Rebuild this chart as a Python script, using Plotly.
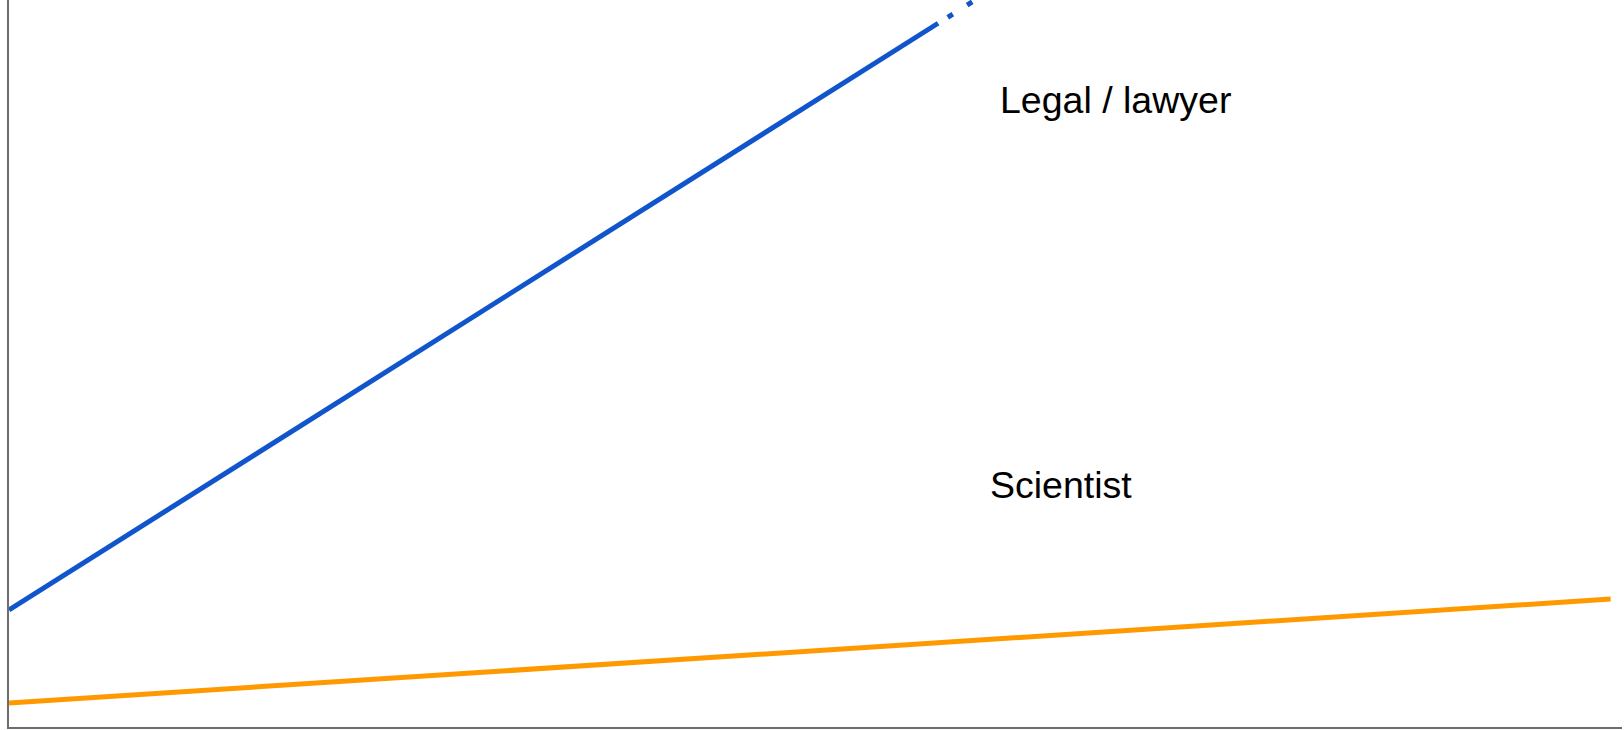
import plotly.graph_objects as go

# Data (arbitrary 0-100 scales)
legal_x = [0, 57.6]
legal_y = [16.1, 96.8]
legal_proj_x = [58.2, 62.0]
legal_proj_y = [97.6, 103.0]
sci_x = [0, 99.3]
sci_y = [3.3, 17.6]

labels = ["Legal / lawyer", "Scientist"]
label_x = [61.3, 60.7]
label_y = [86.2, 33.3]

BLUE = "#1155CC"
ORANGE = "#FF9900"
FONT = "Liberation Sans, Arial, sans-serif"

fig = go.Figure()
fig.add_trace(go.Scatter(x=legal_x, y=legal_y, mode="lines",
                         line=dict(color=BLUE, width=5), hoverinfo="skip"))
fig.add_trace(go.Scatter(x=legal_proj_x, y=legal_proj_y, mode="lines",
                         line=dict(color=BLUE, width=5, dash="6px,17px"), hoverinfo="skip"))
fig.add_trace(go.Scatter(x=sci_x, y=sci_y, mode="lines",
                         line=dict(color=ORANGE, width=5), hoverinfo="skip"))

for t, x, y in zip(labels, label_x, label_y):
    fig.add_annotation(x=x, y=y, text=t, showarrow=False, xanchor="left", yanchor="middle",
                       font=dict(family=FONT, size=37.5, color="#000000"))

fig.update_layout(
    width=1624, height=730,
    margin=dict(l=9, r=2, t=0, b=3),
    paper_bgcolor="white", plot_bgcolor="white",
    showlegend=False,
    xaxis=dict(range=[0, 100], showgrid=False, zeroline=False, showticklabels=False,
               ticks="", showline=True, linecolor="#6d6d6d", linewidth=2),
    yaxis=dict(range=[0, 100], showgrid=False, zeroline=False, showticklabels=False,
               ticks="", showline=True, linecolor="#6d6d6d", linewidth=2),
)

fig.write_html("out.html", config={"displayModeBar": False},
               post_script="document.body.style.margin='0';document.body.style.overflow='hidden';")
